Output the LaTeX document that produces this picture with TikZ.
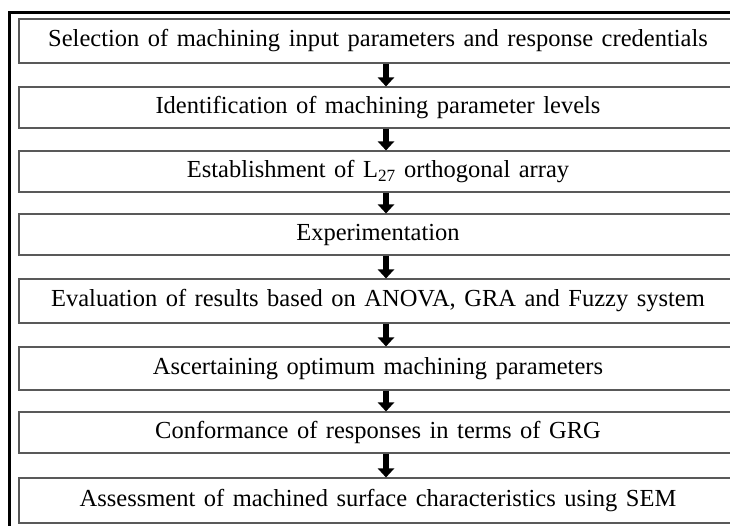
\documentclass[tikz,border=0pt]{standalone}
\usepackage{fontspec}
\setmainfont{Liberation Serif}
\usetikzlibrary{arrows.meta}
\newcommand{\myboxfont}{\fontsize{24.5}{29}\selectfont\spaceskip=8.5pt plus 1pt minus 1pt\relax}
\begin{document}
\begin{tikzpicture}[x=1pt,y=-1pt,
  stepbox/.style={draw=black!65, line width=1.1pt, minimum width=718pt, inner sep=0pt, font=\myboxfont},
  flowarrow/.style={line width=6.5pt, -{Triangle[width=16pt,length=9pt]}}]
\useasboundingbox (0,0) rectangle (730,525);
\clip (0,0) rectangle (730,525);
\draw[line width=3pt] (9.5,12) rectangle (748,540);
\node[stepbox, minimum height=44pt] (b1) at (378,41) {\myboxfont Selection of machining input parameters and response credentials};
\node[stepbox, minimum height=41pt] (b2) at (378,107.5) {\myboxfont Identification of machining parameter levels};
\node[stepbox, minimum height=41pt] (b3) at (378,171.5) {\myboxfont Establishment of L\textsubscript{27} orthogonal array};
\node[stepbox, minimum height=41pt] (b4) at (378,234.5) {\myboxfont Experimentation};
\node[stepbox, minimum height=44pt] (b5) at (378,301) {\myboxfont Evaluation of results based on ANOVA, GRA and Fuzzy system};
\node[stepbox, minimum height=43pt] (b6) at (378,368.5) {\myboxfont Ascertaining optimum machining parameters};
\node[stepbox, minimum height=41pt] (b7) at (378,432.5) {\myboxfont Conformance of responses in terms of GRG};
\node[stepbox, minimum height=45pt] (b8) at (378,500.5) {\myboxfont Assessment of machined surface characteristics using SEM};
\coordinate (ax) at (386,0);
\foreach \a/\b in {b1/b2,b2/b3,b3/b4,b4/b5,b5/b6,b6/b7,b7/b8}
  \draw[flowarrow] (\a.south -| ax) -- (\b.north -| ax);
\end{tikzpicture}
\end{document}
